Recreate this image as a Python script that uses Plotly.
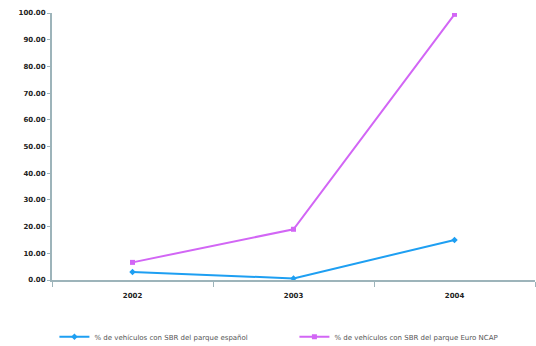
import plotly.graph_objects as go

years = ["2002", "2003", "2004"]
spain = [3.0, 0.6, 15.0]
euroncap = [6.6, 19.0, 99.5]
yticks = [0, 10, 20, 30, 40, 50, 60, 70, 80, 90, 100]
ytext = [f"{v:.2f}" for v in yticks]

fig = go.Figure()
fig.add_trace(go.Scatter(x=years, y=spain, mode="lines+markers",
                         name="% de vehículos con SBR del parque español",
                         line=dict(color="#1E9FF2", width=2),
                         marker=dict(size=5, symbol="diamond", color="#1E9FF2")))
fig.add_trace(go.Scatter(x=years, y=euroncap, mode="lines+markers",
                         name="% de vehículos con SBR del parque Euro NCAP",
                         line=dict(color="#D266F5", width=2),
                         marker=dict(size=5, symbol="square", color="#D266F5")))

axis_col = "#9DB4BA"
tickfont = dict(size=7, color="#222", family="DejaVu Sans", weight="bold")
fig.update_layout(
    width=536, height=346,
    margin=dict(l=52, r=1, t=13, b=66, autoexpand=False),
    paper_bgcolor="white", plot_bgcolor="white",
    font=dict(family="DejaVu Sans", size=7, color="#333"),
    showlegend=True,
    legend=dict(orientation="h", x=0.005, xanchor="left", y=-0.213, yanchor="middle",
                font=dict(size=7, color="#555"), itemwidth=30, tracegroupgap=0,
                entrywidthmode="pixels", entrywidth=195),
    xaxis=dict(type="category", range=[-0.5, 2.5], showgrid=False,
               showline=True, linecolor=axis_col, linewidth=2,
               ticks="outside", tickson="boundaries", ticklen=5, tickcolor=axis_col,
               tickfont=tickfont, ticklabelstandoff=8,
               zeroline=False),
    yaxis=dict(range=[0, 100], tickvals=yticks, ticktext=ytext, showgrid=False,
               showline=True, linecolor=axis_col, linewidth=2,
               ticks="outside", ticklen=3, tickcolor=axis_col,
               tickfont=tickfont,
               zeroline=False),
)
fig.write_html("out.html")
